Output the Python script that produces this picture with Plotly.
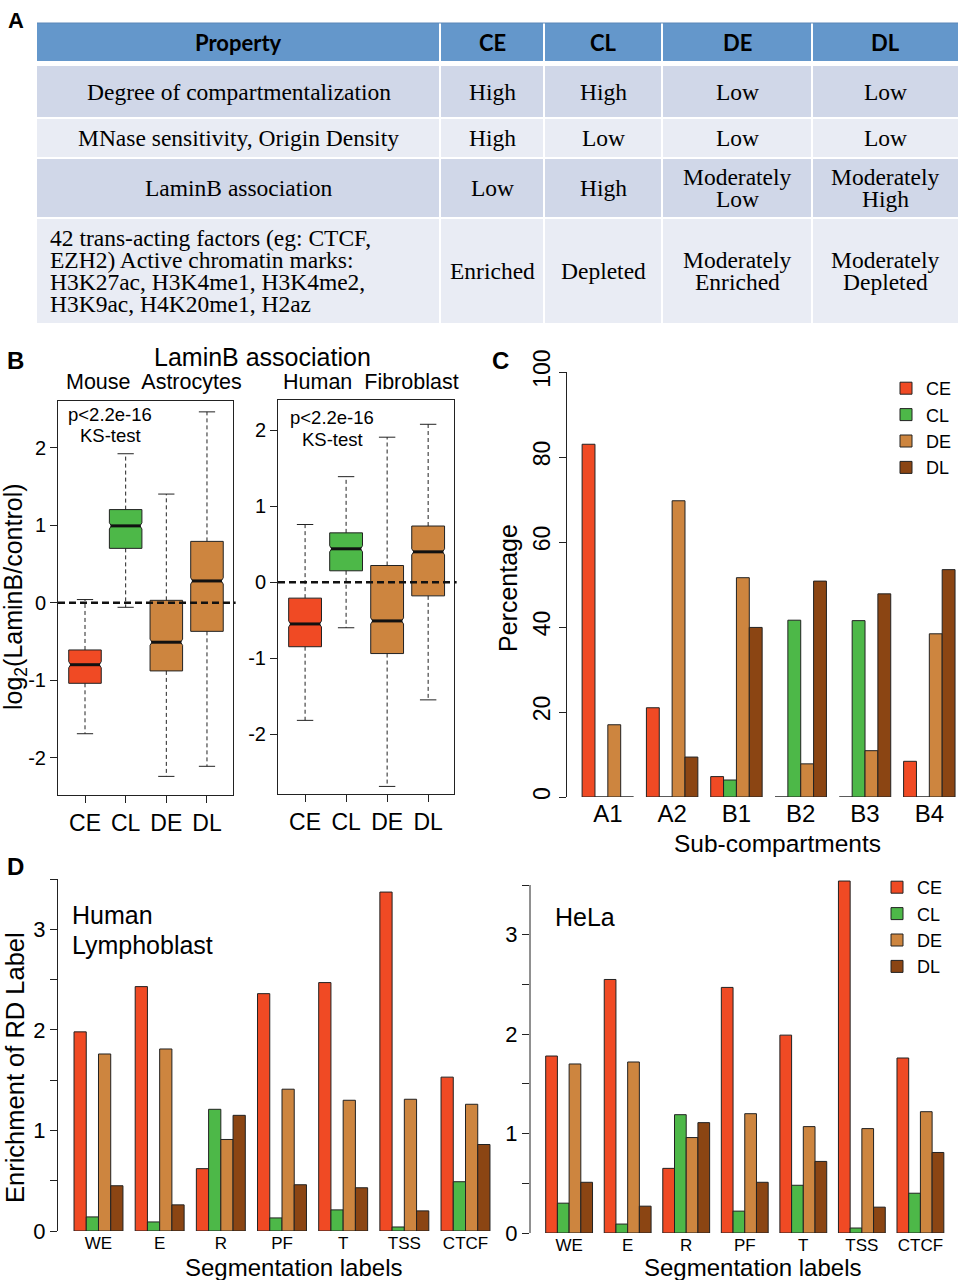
import plotly.graph_objects as go

W, H = 958, 1280
SANS = "Liberation Sans"
SERIF = "Liberation Serif"
HEAD = "Lato"

def px(x):
    return x / W

def py(y):
    return 1 - y / H

# ---------------- data ----------------
rd_classes = ["CE", "CL", "DE", "DL"]
bar_colors = ["#F04A24", "#4DB848", "#CD853F", "#8B4513"]
box_colors = ["#F04A24", "#4DB848", "#CD853F", "#CD853F"]

# Panel A table
table_header = ["Property", "CE", "CL", "DE", "DL"]
table_rows = [
    ["Degree of compartmentalization", "High", "High", "Low", "Low"],
    ["MNase sensitivity, Origin Density", "High", "Low", "Low", "Low"],
    ["LaminB association", "Low", "High", "Moderately\nLow", "Moderately\nHigh"],
    ["42 trans-acting factors (eg: CTCF,\nEZH2) Active chromatin marks:\nH3K27ac, H3K4me1, H3K4me2,\nH3K9ac, H4K20me1, H2az",
     "Enriched", "Depleted", "Moderately\nEnriched", "Moderately\nDepleted"],
]

# Panel B box statistics (log2 LaminB/control)
mouse_upper = [0.04, 1.92, 1.40, 2.46]
mouse_q3 = [-0.61, 1.20, 0.03, 0.79]
mouse_median = [-0.80, 0.99, -0.51, 0.28]
mouse_q1 = [-1.04, 0.70, -0.88, -0.37]
mouse_lower = [-1.69, -0.06, -2.24, -2.11]

human_upper = [0.76, 1.39, 1.91, 2.08]
human_q3 = [-0.21, 0.65, 0.22, 0.74]
human_median = [-0.55, 0.44, -0.51, 0.40]
human_q1 = [-0.85, 0.15, -0.94, -0.18]
human_lower = [-1.82, -0.60, -2.69, -1.55]

# Panel C percentages
subcompartments = ["A1", "A2", "B1", "B2", "B3", "B4"]
pct_CE = [83.0, 21.0, 4.8, 0.0, 0.0, 8.4]
pct_CL = [0.0, 0.0, 4.0, 41.6, 41.5, 0.0]
pct_DE = [17.0, 69.7, 51.6, 7.8, 10.9, 38.4]
pct_DL = [0.0, 9.4, 39.9, 50.8, 47.8, 53.5]

# Panel D enrichment
seg_labels = ["WE", "E", "R", "PF", "T", "TSS", "CTCF"]
lymph_CE = [1.98, 2.43, 0.62, 2.36, 2.47, 3.37, 1.53]
lymph_CL = [0.14, 0.09, 1.21, 0.13, 0.21, 0.04, 0.49]
lymph_DE = [1.76, 1.81, 0.91, 1.41, 1.30, 1.31, 1.26]
lymph_DL = [0.45, 0.26, 1.15, 0.46, 0.43, 0.20, 0.86]

hela_CE = [1.78, 2.55, 0.65, 2.47, 1.99, 3.54, 1.76]
hela_CL = [0.30, 0.09, 1.19, 0.22, 0.48, 0.05, 0.40]
hela_DE = [1.70, 1.72, 0.96, 1.20, 1.07, 1.05, 1.22]
hela_DL = [0.51, 0.27, 1.11, 0.51, 0.72, 0.26, 0.81]

fig = go.Figure()
annotations = []
shapes = []


def ann(text, x, y, size, family=SANS, xanchor="center", yanchor="middle",
        angle=0, color="black"):
    annotations.append(dict(text=text, x=px(x), y=py(y), xref="paper", yref="paper",
                            xanchor=xanchor, yanchor=yanchor, showarrow=False,
                            textangle=angle, font=dict(size=size, family=family, color=color)))


# ---------------- Panel A: table ----------------
col_edges = [37, 440, 544, 662, 812, 958]
row_spans = [(23, 61), (66, 117), (119, 157), (159, 217), (219, 323)]
row_fills = ["#6497CB", "#D0D7E8", "#E9ECF4", "#D0D7E8", "#E9ECF4"]
line_step = 22.3

all_rows = [table_header] + table_rows
for r, (y0, y1) in enumerate(row_spans):
    for c in range(5):
        x0 = col_edges[c] + (0 if c == 0 else 1)
        x1 = col_edges[c + 1] - (1 if c < 4 else 0)
        shapes.append(dict(type="rect", xref="paper", yref="paper", layer="below",
                           x0=px(x0), x1=px(x1), y0=py(y1), y1=py(y0),
                           fillcolor=row_fills[r], line=dict(width=0)))
        text = all_rows[r][c]
        lines = text.split("\n")
        yc = (y0 + y1) / 2
        n = len(lines)
        for k, ln in enumerate(lines):
            yy = yc + (k - (n - 1) / 2) * line_step
            if r == 0:
                ann("<b>" + ln + "</b>", (col_edges[c] + col_edges[c + 1]) / 2, yc, 22, family=HEAD)
            elif c == 0 and n > 1:
                ann(ln, 48, yy, 23.5, family=SERIF, xanchor="left")
            else:
                ann(ln, (col_edges[c] + col_edges[c + 1]) / 2, yy, 23.5, family=SERIF)
# darker top edge of header
shapes.append(dict(type="line", xref="paper", yref="paper", x0=px(37), x1=1,
                   y0=py(23), y1=py(23), line=dict(color="#5A87B8", width=1)))

# ---------------- Panel B: box plots ----------------
cap = 0.2
half_med = 0.37


def add_boxes(xa, ya, upper, q3, med, q1, lower):
    for i, cat in enumerate(rd_classes):
        pos = i + 1
        fig.add_trace(go.Scatter(
            x=[pos, pos, None, pos, pos], y=[q3[i], upper[i], None, q1[i], lower[i]],
            mode="lines", line=dict(color="#222", width=1, dash="4px,3px"),
            xaxis=xa, yaxis=ya, showlegend=False, hoverinfo="skip"))
        fig.add_trace(go.Scatter(
            x=[pos - cap, pos + cap, None, pos - cap, pos + cap],
            y=[upper[i], upper[i], None, lower[i], lower[i]],
            mode="lines", line=dict(color="#222", width=1),
            xaxis=xa, yaxis=ya, showlegend=False, hoverinfo="skip"))
        fig.add_trace(go.Box(
            x=[pos], q1=[q1[i]], median=[med[i]], q3=[q3[i]],
            lowerfence=[q1[i]], upperfence=[q3[i]], notched=True, notchspan=[0.04],
            notchwidth=0.06, width=0.8, whiskerwidth=0, boxpoints=False,
            fillcolor=box_colors[i], line=dict(color="#222", width=1),
            xaxis=xa, yaxis=ya, showlegend=False, name=cat))
        fig.add_trace(go.Scatter(
            x=[pos - half_med, pos + half_med], y=[med[i], med[i]], mode="lines",
            line=dict(color="#111", width=3), xaxis=xa, yaxis=ya,
            showlegend=False, hoverinfo="skip"))


add_boxes("x", "y", mouse_upper, mouse_q3, mouse_median, mouse_q1, mouse_lower)
add_boxes("x2", "y2", human_upper, human_q3, human_median, human_q1, human_lower)

for xr, yr in (("x domain", "y"), ("x2 domain", "y2")):
    shapes.append(dict(type="line", xref=xr, yref=yr, x0=0, x1=1.015, y0=0, y1=0,
                       line=dict(color="#111", width=2.5, dash="7px,4px")))

# ---------------- Panel C: bars ----------------
for name, vals, col in zip(rd_classes, [pct_CE, pct_CL, pct_DE, pct_DL], bar_colors):
    fig.add_trace(go.Bar(x=subcompartments, y=vals, name=name,
                         marker=dict(color=col, line=dict(color="#222", width=1)),
                         xaxis="x3", yaxis="y3", legend="legend", legendgroup="c" + name))

# ---------------- Panel D: bars ----------------
for name, vals, col in zip(rd_classes, [lymph_CE, lymph_CL, lymph_DE, lymph_DL], bar_colors):
    fig.add_trace(go.Bar(x=seg_labels, y=vals, name=name,
                         marker=dict(color=col, line=dict(color="#222", width=1)),
                         xaxis="x4", yaxis="y4", showlegend=False))
for name, vals, col in zip(rd_classes, [hela_CE, hela_CL, hela_DE, hela_DL], bar_colors):
    fig.add_trace(go.Bar(x=seg_labels, y=vals, name=name,
                         marker=dict(color=col, line=dict(color="#222", width=1)),
                         xaxis="x5", yaxis="y5", legend="legend2", legendgroup="d" + name))

shapes.append(dict(type="line", xref="x5 domain", yref="y5", x0=0, x1=0, y0=0, y1=3.5,
                   line=dict(color="#222", width=1)))

# ---------------- text ----------------
ann("<b>A</b>", 16, 21, 22)
ann("<b>B</b>", 15, 361, 24)
ann("<b>C</b>", 500, 361, 24)
ann("<b>D</b>", 15, 866, 24)

ann("LaminB association", 262, 357, 25)
ann("Mouse  Astrocytes", 154, 382, 21.5)
ann("Human  Fibroblast", 371, 382, 21.5)
ann("p<2.2e-16", 110, 414, 18.5)
ann("KS-test", 110, 436, 18.5)
ann("p<2.2e-16", 332, 417, 18.5)
ann("KS-test", 332, 439, 18.5)
ann("log<sub>2</sub>(LaminB/control)", 15, 597, 25, angle=-90)

ann("Percentage", 508, 588, 25, angle=-90)
ann("Sub-compartments", 777, 843, 24.5)

ann("Enrichment of RD Label", 15, 1068, 25.5, angle=-90)
ann("Human", 70, 915, 25, xanchor="left")
ann("Lymphoblast", 70, 945, 25, xanchor="left")
ann("HeLa", 553, 917, 25, xanchor="left")
ann("Segmentation labels", 293, 1267, 24)
ann("Segmentation labels", 752, 1267, 24)

# ---------------- axes ----------------
axis_common = dict(showgrid=False, zeroline=False, automargin=False,
                   linecolor="#222", linewidth=1,
                   tickcolor="#222", tickwidth=1, ticklen=7,
                   tickfont=dict(family=SANS, size=20, color="black"))

box_x = dict(axis_common, showline=True, mirror=True, ticks="outside",
             tickvals=[1, 2, 3, 4], ticktext=rd_classes,
             tickfont=dict(family=SANS, size=23, color="black"))
box_y = dict(axis_common, showline=True, mirror=True, ticks="outside",
             tickvals=[-2, -1, 0, 1, 2], ticktext=["-2", "-1", "0", "1", "2"])

d_major = [0, 1, 2, 3]
d_minor = dict(tickvals=[0.5, 1.5, 2.5, 3.5], ticks="outside", ticklen=7,
               tickcolor="#222", tickwidth=1, showgrid=False)

fig.update_layout(
    template="none",
    width=W, height=H, margin=dict(l=0, r=0, t=0, b=0, autoexpand=False),
    paper_bgcolor="white", plot_bgcolor="rgba(0,0,0,0)",
    barmode="group", bargap=0.2, bargroupgap=0, boxmode="overlay",
    font=dict(family=SANS, color="black"),
    xaxis=dict(box_x, domain=[px(58), px(233)], range=[0.336, 4.64], anchor="y"),
    yaxis=dict(box_y, domain=[py(795), py(401)], range=[-2.48, 2.60], anchor="x"),
    xaxis2=dict(box_x, domain=[px(278), px(454)], range=[0.34, 4.63], anchor="y2"),
    yaxis2=dict(box_y, domain=[py(794), py(400)], range=[-2.79, 2.40], anchor="x2"),
    xaxis3=dict(axis_common, showline=False, ticks="", domain=[px(567), 1],
                range=[-0.635, 5.446], anchor="y3",
                tickfont=dict(family=SANS, size=24, color="black")),
    yaxis3=dict(axis_common, showline=True, ticks="outside", domain=[py(797), py(372)],
                range=[0, 100], tickvals=[0, 20, 40, 60, 80, 100], tickangle=-90,
                tickfont=dict(family=SANS, size=23, color="black"), anchor="x3"),
    xaxis4=dict(axis_common, showline=False, ticks="", domain=[px(58), px(506)],
                range=[-0.662, 6.662], anchor="y4", ticklabelstandoff=0,
                tickfont=dict(family=SANS, size=17, color="black")),
    yaxis4=dict(axis_common, showline=True, ticks="outside", domain=[py(1231), py(879)],
                range=[0, 3.5], tickvals=d_major, minor=d_minor, anchor="x4",
                tickfont=dict(family=SANS, size=22, color="black")),
    xaxis5=dict(axis_common, showline=False, ticks="", domain=[px(530), 1],
                range=[-0.668, 6.642], anchor="y5", ticklabelstandoff=0,
                tickfont=dict(family=SANS, size=17, color="black")),
    yaxis5=dict(axis_common, showline=False, ticks="outside", domain=[py(1233), py(870)],
                range=[0, 3.651], tickvals=d_major, minor=d_minor, anchor="x5",
                tickfont=dict(family=SANS, size=22, color="black")),
    legend=dict(x=px(886), y=py(370), xanchor="left", yanchor="top",
                font=dict(family=SANS, size=18), bgcolor="rgba(0,0,0,0)",
                tracegroupgap=0),
    legend2=dict(x=px(877), y=py(869), xanchor="left", yanchor="top",
                 font=dict(family=SANS, size=18), bgcolor="rgba(0,0,0,0)",
                 tracegroupgap=0),
    annotations=annotations,
    shapes=shapes,
)

fig.write_html("out.html")
